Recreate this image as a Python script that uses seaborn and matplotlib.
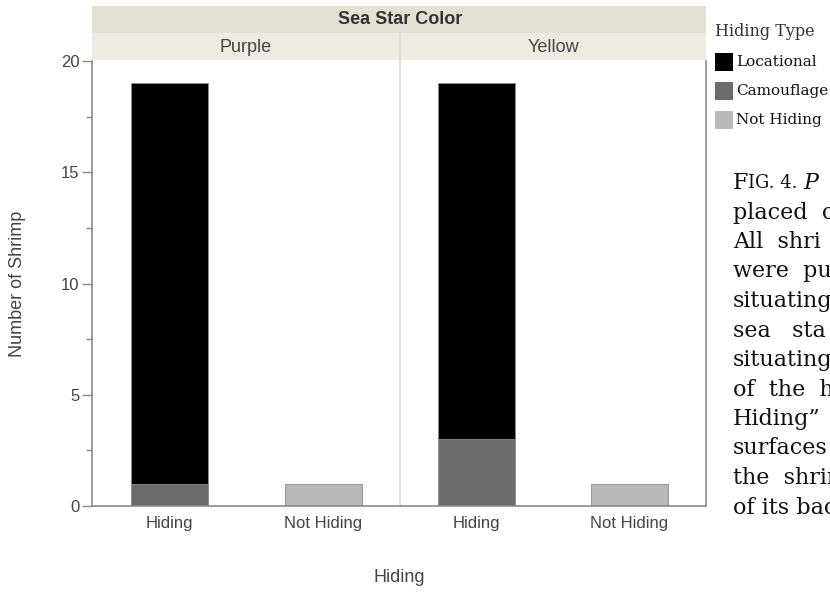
import numpy as np
import pandas as pd
import seaborn as sns
import matplotlib.pyplot as plt
from matplotlib.patches import Rectangle

# values
star_colors = ["Purple", "Yellow"]
hiding_levels = ["Hiding", "Not Hiding"]
hiding_types = ["Locational", "Camouflage", "Not Hiding"]
locational = [18, 16]
camouflage = [1, 3]
not_hiding = [1, 1]
type_colors = ["#000000", "#6b6b6b", "#b9b9b9"]

caption_lines = ["placed  o", "All  shri", "were  pu", "situating", "sea   sta",
                 "situating", "of  the  h", "Hiding\u201d", "surfaces", "the  shrin",
                 "of its bac"]

rows = []
for i, c in enumerate(star_colors):
    rows.append((c, "Hiding", "Locational", locational[i]))
    rows.append((c, "Hiding", "Camouflage", camouflage[i]))
    rows.append((c, "Not Hiding", "Not Hiding", not_hiding[i]))
df = pd.DataFrame(rows, columns=["Star", "Hiding", "Type", "Count"])
df["Hiding"] = pd.Categorical(df["Hiding"], categories=hiding_levels)

sns.set_style("white")
plt.rcParams["font.family"] = ["Liberation Sans", "DejaVu Sans"]

W, H = 830, 594
fig = plt.figure(figsize=(W / 100, H / 100), dpi=100)


def fx(px):
    return px / W


def fy(py):
    return 1 - py / H


panels = [(92, 308), (400, 306)]
axes = []
for i, (c, (x0, w)) in enumerate(zip(star_colors, panels)):
    ax = fig.add_axes([fx(x0), fy(506), w / W, 445 / H])
    sub = df[df["Star"] == c]
    sns.histplot(data=sub, x="Hiding", hue="Type", weights="Count",
                 multiple="stack", discrete=True, shrink=0.5,
                 hue_order=hiding_types, palette=type_colors, alpha=1,
                 edgecolor="#8c8c8c", linewidth=0.6, legend=False, ax=ax)
    # drop the empty layers of the stack
    for p in list(ax.patches):
        if p.get_height() == 0:
            p.remove()
    ax.set_xlim(-0.5, 1.5)
    ax.set_ylim(0, 20)
    ax.set_xticks([0, 1])
    ax.set_xticklabels(hiding_levels, fontsize=12, color="#444444")
    ax.set_xlabel("")
    ax.set_ylabel("")
    ax.tick_params(axis="x", length=0, pad=7)
    ax.spines["top"].set_visible(False)
    for s in ["left", "right", "bottom"]:
        ax.spines[s].set_color("#8a8a8a")
        ax.spines[s].set_linewidth(1.2)
    if i == 0:
        ax.set_yticks([0, 5, 10, 15, 20])
        ax.set_yticks([2.5, 7.5, 12.5, 17.5], minor=True)
        ax.tick_params(axis="y", which="major", length=7, width=1, color="#8a8a8a",
                       labelsize=12, labelcolor="#444444", pad=2, left=True)
        ax.tick_params(axis="y", which="minor", length=4, width=1, color="#8a8a8a", left=True)
        ax.spines["right"].set_visible(False)
    else:
        ax.set_yticks([])
        ax.spines["left"].set_color("#e2e2e2")
        ax.spines["left"].set_linewidth(1.5)
    axes.append(ax)

# header bands
fig.add_artist(Rectangle((fx(92), fy(33)), (706 - 92) / W, 27 / H,
                         transform=fig.transFigure, facecolor="#e3e0d4", edgecolor="none"))
fig.add_artist(Rectangle((fx(92), fy(60)), (706 - 92) / W, 27 / H,
                         transform=fig.transFigure, facecolor="#edebe4", edgecolor="none"))
fig.add_artist(plt.Line2D([fx(400), fx(400)], [fy(60), fy(33)],
                          transform=fig.transFigure, color="#dcdcdc", lw=1.2))
fig.text(fx(400), fy(20), "Sea Star Color", ha="center", va="center",
         fontsize=13, fontweight="bold", color="#333333")
fig.text(fx(246), fy(47), star_colors[0], ha="center", va="center", fontsize=13, color="#444444")
fig.text(fx(553), fy(47), star_colors[1], ha="center", va="center", fontsize=13, color="#444444")

fig.text(fx(18), fy(284), "Number of Shrimp", rotation=90, ha="center", va="center",
         fontsize=13, color="#444444")
fig.text(fx(399), fy(577), "Hiding", ha="center", va="center", fontsize=13, color="#444444")

# legend
serif = ["DejaVu Serif"]
fig.text(fx(715), fy(32), "Hiding Type", ha="left", va="center", fontsize=11.5,
         family=serif, color="#333333")
for k, (lab, col) in enumerate(zip(hiding_types, type_colors)):
    yc = 62 + 29 * k
    fig.add_artist(Rectangle((fx(715), fy(yc + 9)), 18 / W, 18 / H,
                             transform=fig.transFigure, facecolor=col, edgecolor="none"))
    fig.text(fx(736), fy(yc), lab, ha="left", va="center", fontsize=11,
             family=serif, color="#111111")

# caption fragment on the right (cropped in the original)
t = fig.text(fx(733), fy(183), "F", ha="left", va="center", fontsize=16,
             family=serif, color="#111111")
fig.canvas.draw()
r = fig.canvas.get_renderer()
x = t.get_window_extent(r).x1
t2 = fig.text(x / W, fy(183), "IG. 4. ", ha="left", va="center", fontsize=13,
              family=serif, color="#111111")
x = t2.get_window_extent(r).x1
fig.text(x / W, fy(183), "P", ha="left", va="center", fontsize=16,
         family=serif, style="italic", color="#111111")
for k, line in enumerate(caption_lines):
    fig.text(fx(733), fy(183 + 29.5 * (k + 1)), line, ha="left", va="center",
             fontsize=16, family=serif, color="#111111")

fig.savefig("out.png", dpi=100)
